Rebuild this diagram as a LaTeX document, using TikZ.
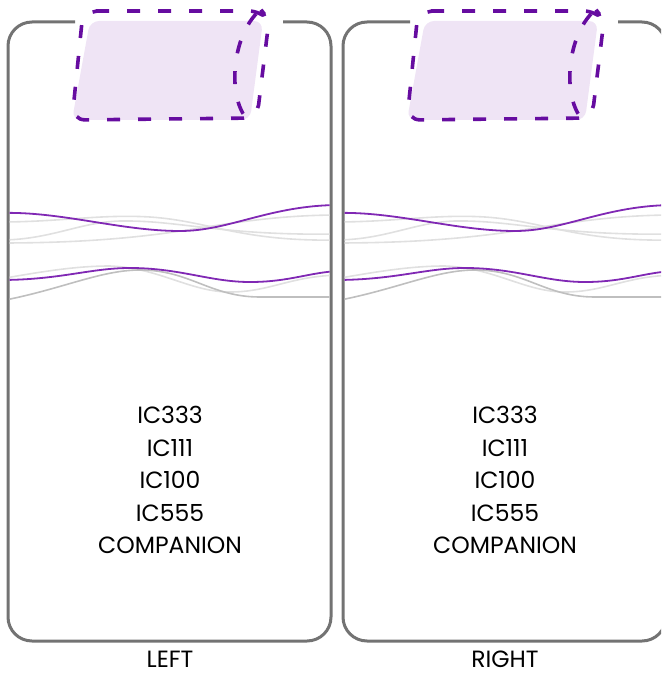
\documentclass[tikz,border=0pt]{standalone}
\usepackage{fontspec}
\setmainfont{Poppins}
\definecolor{pdark}{RGB}{102,12,160}
\definecolor{pwave}{RGB}{128,40,180}
\definecolor{plight}{RGB}{239,228,245}
\begin{document}
\begin{tikzpicture}[x=1pt,y=-1pt,
  panel/.style={draw=black!55,line width=3pt,rounded corners=24pt},
  pfill/.style={fill=plight,draw=none,rounded corners=9pt},
  pdash/.style={draw=pdark,line width=3.6pt,dash pattern=on 13pt off 18pt,rounded corners=13pt},
  pdashc/.style={draw=pdark,line width=3.6pt,dash pattern=on 13pt off 18pt},
  wavep/.style={draw=pwave,line width=1.8pt},
  waveg/.style={draw=black!12,line width=1.6pt},
  waved/.style={draw=black!25,line width=1.6pt},
  lbl/.style={font=\fontsize{23.5}{28}\selectfont,text=black,inner sep=0pt}]
\useasboundingbox (0,0) rectangle (661,674);
\begin{scope}
\clip (0,0) rectangle (661,674);
\foreach \dx/\nm in {0/L,335/R}{
  \begin{scope}[xshift=\dx pt]
    \draw[panel] (75,22) -- (8,22) -- (8,641) -- (331,641) -- (331,22) -- (283,22);
    \begin{scope}
      \clip (9.5,150) rectangle (329.5,330);
      \draw[waveg] (0,222) .. controls (60,222) and (100,214) .. (150,217) .. controls (210,221) and (240,242) .. (340,240);
      \draw[waveg] (0,240) .. controls (50,240) and (80,222) .. (120,221) .. controls (180,220) and (220,236) .. (340,234);
      \draw[waveg] (0,243) .. controls (80,243) and (140,238) .. (200,228) .. controls (250,220) and (290,215) .. (340,215);
      \draw[waveg] (0,279) .. controls (50,270) and (80,266) .. (110,266) .. controls (160,268) and (190,292) .. (230,292) .. controls (270,292) and (290,276) .. (340,275);
      \draw[waved] (0,301) .. controls (60,290) and (100,270) .. (140,270) .. controls (190,270) and (210,297) .. (260,297) -- (340,297);
      \draw[wavep] (0,213) .. controls (60,211) and (120,231) .. (180,231) .. controls (230,231) and (270,205) .. (340,205);
      \draw[wavep] (0,280) .. controls (60,280) and (90,268) .. (130,268) .. controls (180,268) and (210,282) .. (250,282) .. controls (290,282) and (310,272) .. (340,271);
    \end{scope}
    \fill[pfill] (90,21) -- (263,21) -- (250,120) -- (72,120) -- cycle;
    \draw[pdash] (96,11) -- (262,11) -- (269,20) -- (257,118) -- (72,120) -- (83,12) -- (100,11);
    \draw[pdashc] (256,14) .. controls (232,40) and (228,95) .. (246,118);
  \end{scope}
}
\end{scope}
\node[lbl] (L1) at (170,415) {IC333};
\node[lbl] (L2) at (170,448) {IC111};
\node[lbl] (L3) at (170,480) {IC100};
\node[lbl] (L4) at (170,513) {IC555};
\node[lbl] (L5) at (170,545) {COMPANION};
\node[lbl] (LL) at (170,659) {LEFT};
\node[lbl] (R1) at (505,415) {IC333};
\node[lbl] (R2) at (505,448) {IC111};
\node[lbl] (R3) at (505,480) {IC100};
\node[lbl] (R4) at (505,513) {IC555};
\node[lbl] (R5) at (505,545) {COMPANION};
\node[lbl] (RR) at (505,659) {RIGHT};
\end{tikzpicture}
\end{document}
